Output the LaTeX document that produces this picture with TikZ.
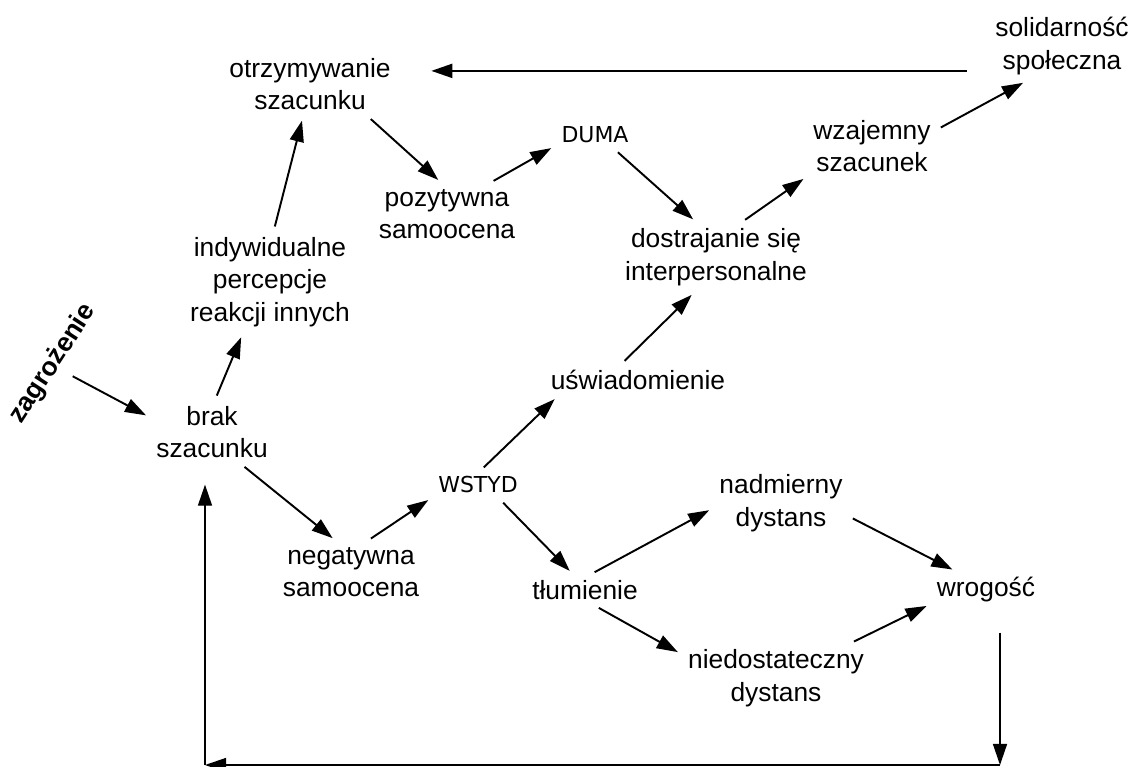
\documentclass[tikz,border=0pt]{standalone}
\usepackage{fontspec}
\setmainfont{Liberation Sans}
\newfontfamily\capsfont{DejaVu Sans}
\usetikzlibrary{arrows.meta}

\begin{document}
\begin{tikzpicture}[
    x=0.02cm, y=-0.02cm,
    concept/.style={
        align=center, inner sep=3pt,
        font=\fontsize{15}{18.5}\selectfont
    },
    emotion/.style={inner sep=3pt, font=\capsfont\fontsize{12.5}{15}\selectfont},
    arrow/.style={-{Triangle[length=12pt, width=8pt]}, line width=1.1pt,
        shorten >=3pt, shorten <=3pt},
    loopline/.style={-{Triangle[length=12pt, width=8pt]}, line width=0.8pt}
]
\useasboundingbox (0,0) rectangle (1146,767);

% ==================== CONCEPTS ====================
\node[concept] (otrz) at (310,84) {otrzymywanie\\szacunku};
\node[concept] (sol) at (1062,46) {solidarność\\społeczna};
\node[emotion] (duma) at (595,135) {DUMA};
\node[concept] (poz) at (447,214) {pozytywna\\samoocena};
\node[concept] (wzaj) at (872,146) {wzajemny\\szacunek};
\node[concept] (dostr) at (716,257) {dostrajanie się\\interpersonalne};
\node[concept] (indyw) at (270,282) {indywidualne\\percepcje\\reakcji innych};
\node[concept] (usw) at (638,380) {uświadomienie};
\node[concept] (brak) at (212,432) {brak\\szacunku};
\node[concept, font=\bfseries\fontsize{15}{18.5}\selectfont, rotate=57] (zagr) at (53,364) {zagrożenie};
\node[emotion] (wstyd) at (478,485) {WSTYD};
\node[concept] (nadm) at (781,503) {nadmierny\\dystans};
\node[concept] (neg) at (351,572) {negatywna\\samoocena};
\node[concept] (tlum) at (585,590) {tłumienie};
\node[concept] (wrog) at (986,590) {wrogość};
\node[concept] (niedo) at (776,678) {niedostateczny\\dystans};

% ==================== ARROWS ====================
% górna pętla
\draw[arrow, shorten <=13pt, shorten >=20pt] (sol.199) -- (sol.199 -| otrz.east);
\draw[arrow] (otrz.-29) -- (poz.99);
\draw[arrow] (poz.36) -- (duma.195);
\draw[arrow] (duma.-36) -- (dostr.119);
\draw[arrow] (dostr.54) -- (wzaj.205);
\draw[arrow] (wzaj.14) -- (sol.225);
\draw[arrow] (indyw.86) -- (otrz.258);
\draw[arrow] (brak.85) -- (indyw.242);
\draw[arrow] (zagr.south) -- (brak.167);

% wstyd
\draw[arrow] (brak.-48) -- (neg.115);
\draw[arrow] (neg.63) -- (wstyd.195);
\draw[arrow] (wstyd.82) -- (usw.191);
\draw[arrow] (usw.138) -- (dostr.239);
\draw[arrow] (wstyd.-33) -- (tlum.127);
\draw[arrow] (tlum.72) -- (nadm.184);
\draw[arrow] (tlum.-59) -- (niedo.166);
\draw[arrow] (nadm.-11) -- (wrog.148);
\draw[arrow] (niedo.25) -- (wrog.194);

% powrót do braku szacunku
\coordinate (loopR) at (1000,765);
\coordinate (loopL) at (205,765);
\draw[loopline, shorten <=14pt] (loopR |- wrog.south) -- (loopR);
\draw[loopline] (loopR) -- (loopL);
\draw[loopline, shorten >=12pt] (loopL) -- (loopL |- brak.south);

\end{tikzpicture}
\end{document}
